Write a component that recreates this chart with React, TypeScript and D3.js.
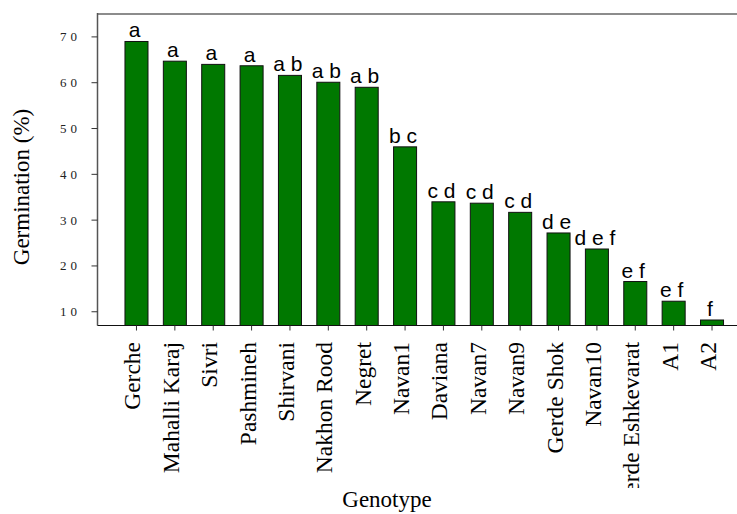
import React from "react";
import * as d3 from "d3";

const genotypes = [
  "Gerche", "Mahalli Karaj", "Sivri", "Pashmineh", "Shirvani", "Nakhon Rood",
  "Negret", "Navan1", "Daviana", "Navan7", "Navan9", "Gerde Shok", "Navan10",
  "Gerde Eshkevarat", "A1", "A2",
];
const germination = [69.0, 64.7, 64.0, 63.7, 61.6, 60.1, 59.0, 46.0, 34.0, 33.7, 31.7, 27.2, 23.7, 16.6, 12.3, 8.2];
const groups = ["a", "a", "a", "a", "a b", "a b", "a b", "b c", "c d", "c d", "c d", "d e", "d e f", "e f", "e f", "f"];
const yTicks = [10, 20, 30, 40, 50, 60, 70];

const W = 737;
const H = 514;
const left = 97.5;
const top = 14;
const bottom = 325.5;
const right = 751;

export default function App() {
  const x = d3.scaleBand<string>().domain(genotypes).range([left, right]).paddingInner(0.4).paddingOuter(0.716);
  const y = d3.scaleLinear().domain([7, 75]).range([bottom, top]);
  const serif = "'Liberation Serif', 'Times New Roman', serif";
  const sans = "'Liberation Sans', Arial, sans-serif";
  return (
    <svg width={W} height={H} style={{ position: "absolute", left: 0, top: 0, background: "#fff" }}>
      <defs>
        <clipPath id="xlabclip">
          <rect x={0} y={330} width={W} height={158} />
        </clipPath>
      </defs>
      {/* frame */}
      <line x1={left} x2={W} y1={top} y2={top} stroke="#8c8c8c" strokeWidth={2} />
      <line x1={left} x2={left} y1={top - 1} y2={bottom} stroke="#555" strokeWidth={1.5} />
      {/* bars */}
      {genotypes.map((g, i) => (
        <rect key={g} x={x(g)!} y={y(germination[i])} width={x.bandwidth()} height={bottom - y(germination[i])}
          fill="#007800" stroke="#111" strokeWidth={1} />
      ))}
      <line x1={left} x2={W} y1={bottom} y2={bottom} stroke="#111" strokeWidth={1.2} />
      {/* group letters */}
      {genotypes.map((g, i) => (
        <text key={g} x={x(g)! + x.bandwidth() / 2 - 2} y={y(germination[i]) - 4} textAnchor="middle"
          fontFamily={sans} fontSize={21} fill="#000">{groups[i]}</text>
      ))}
      {/* y axis ticks */}
      {yTicks.map((t) => (
        <g key={t}>
          <line x1={left - 6} x2={left} y1={y(t)} y2={y(t)} stroke="#333" strokeWidth={1} />
          <text x={81} y={y(t)} dy="0.35em" textAnchor="end" fontFamily={serif} fontSize={13}
            letterSpacing={4} fill="#222">{t}</text>
        </g>
      ))}
      {/* x ticks */}
      {genotypes.map((g) => {
        const cx = x(g)! + x.bandwidth() / 2;
        return <line key={g} x1={cx} x2={cx} y1={bottom} y2={bottom + 5} stroke="#333" strokeWidth={1} />;
      })}
      <g clipPath="url(#xlabclip)">
        {genotypes.map((g) => {
          const cx = x(g)! + x.bandwidth() / 2;
          return (
            <text key={g} transform={`translate(${cx + 4},342) rotate(-90)`} textAnchor="end"
              fontFamily={serif} fontSize={23.5} fill="#000">{g}</text>
          );
        })}
      </g>
      {/* axis titles */}
      <text x={387} y={507} textAnchor="middle" fontFamily={serif} fontSize={23} fill="#000">Genotype</text>
      <text transform="translate(29,187) rotate(-90)" textAnchor="middle" fontFamily={serif} fontSize={23} fill="#000">Germination (%)</text>
    </svg>
  );
}
